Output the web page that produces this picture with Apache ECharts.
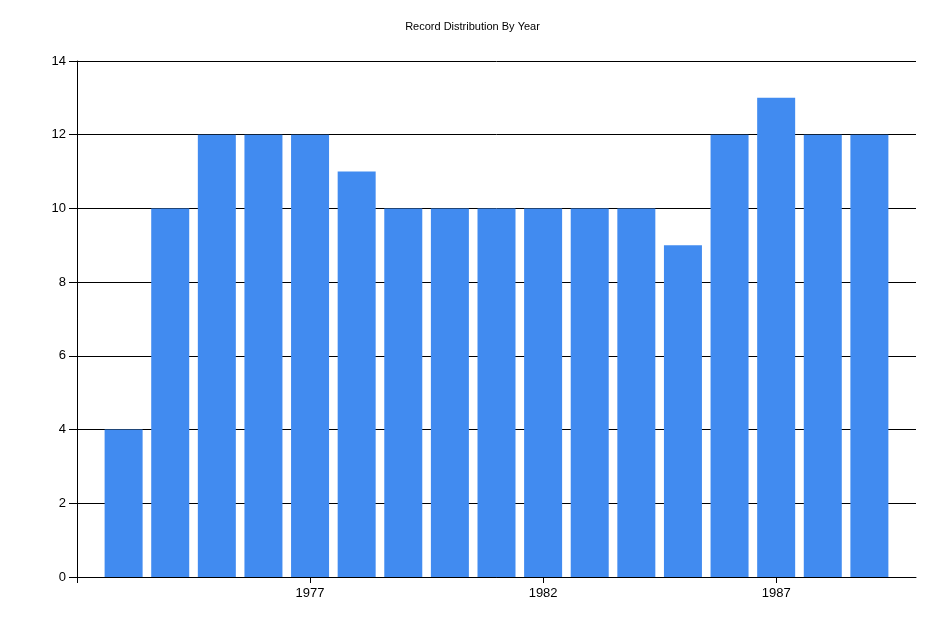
<!DOCTYPE html>
<html>
<head>
<meta charset="utf-8">
<script src="https://cdn.jsdelivr.net/npm/echarts@6/dist/echarts.min.js"></script>
<style>html,body{margin:0;padding:0;background:#fff;}#chart{width:945px;height:630px;}</style>
</head>
<body>
<div id="chart"></div>
<script>
const years = [1973,1974,1975,1976,1977,1978,1979,1980,1981,1982,1983,1984,1985,1986,1987,1988,1989];
const counts = [4,10,12,12,12,11,10,10,10,10,10,10,9,12,13,12,12];
const yTicks = {min:0, max:14, interval:2};
const xRange = {min:1972, max:1990, interval:5};

const chart = echarts.init(document.getElementById('chart'));
chart.setOption({
  animation:false,
  backgroundColor:'#fff',
  title:{text:'Record Distribution By Year', left:'center', top:16,
    textStyle:{fontSize:11, fontWeight:'normal', color:'#000', fontFamily:'Liberation Sans, Arial, sans-serif'}},
  grid:{left:77, right:29, top:61, bottom:53},
  xAxis:{type:'value', min:xRange.min, max:xRange.max, interval:xRange.interval,
    axisLine:{lineStyle:{color:'#000', width:1}},
    axisTick:{show:true, length:6, lineStyle:{color:'#000'}},
    splitLine:{show:false},
    axisLabel:{color:'#000', fontSize:13, fontFamily:'Liberation Sans, Arial, sans-serif', margin:10,
      showMaxLabel:false,
      formatter:v => (v===xRange.min ? '' : String(v))}},
  yAxis:{type:'value', min:yTicks.min, max:yTicks.max, interval:yTicks.interval,
    axisLine:{show:true, lineStyle:{color:'#000'}},
    axisTick:{show:true, length:8, lineStyle:{color:'#000'}},
    splitLine:{show:true, lineStyle:{color:'#000', width:1}},
    axisLabel:{color:'#000', fontSize:13, fontFamily:'Liberation Sans, Arial, sans-serif', margin:11}},
  series:[{type:'bar', data: years.map((y,i)=>[y,counts[i]]), barWidth:38,
    itemStyle:{color:'#418bf0'}}]
});
</script>
</body>
</html>
